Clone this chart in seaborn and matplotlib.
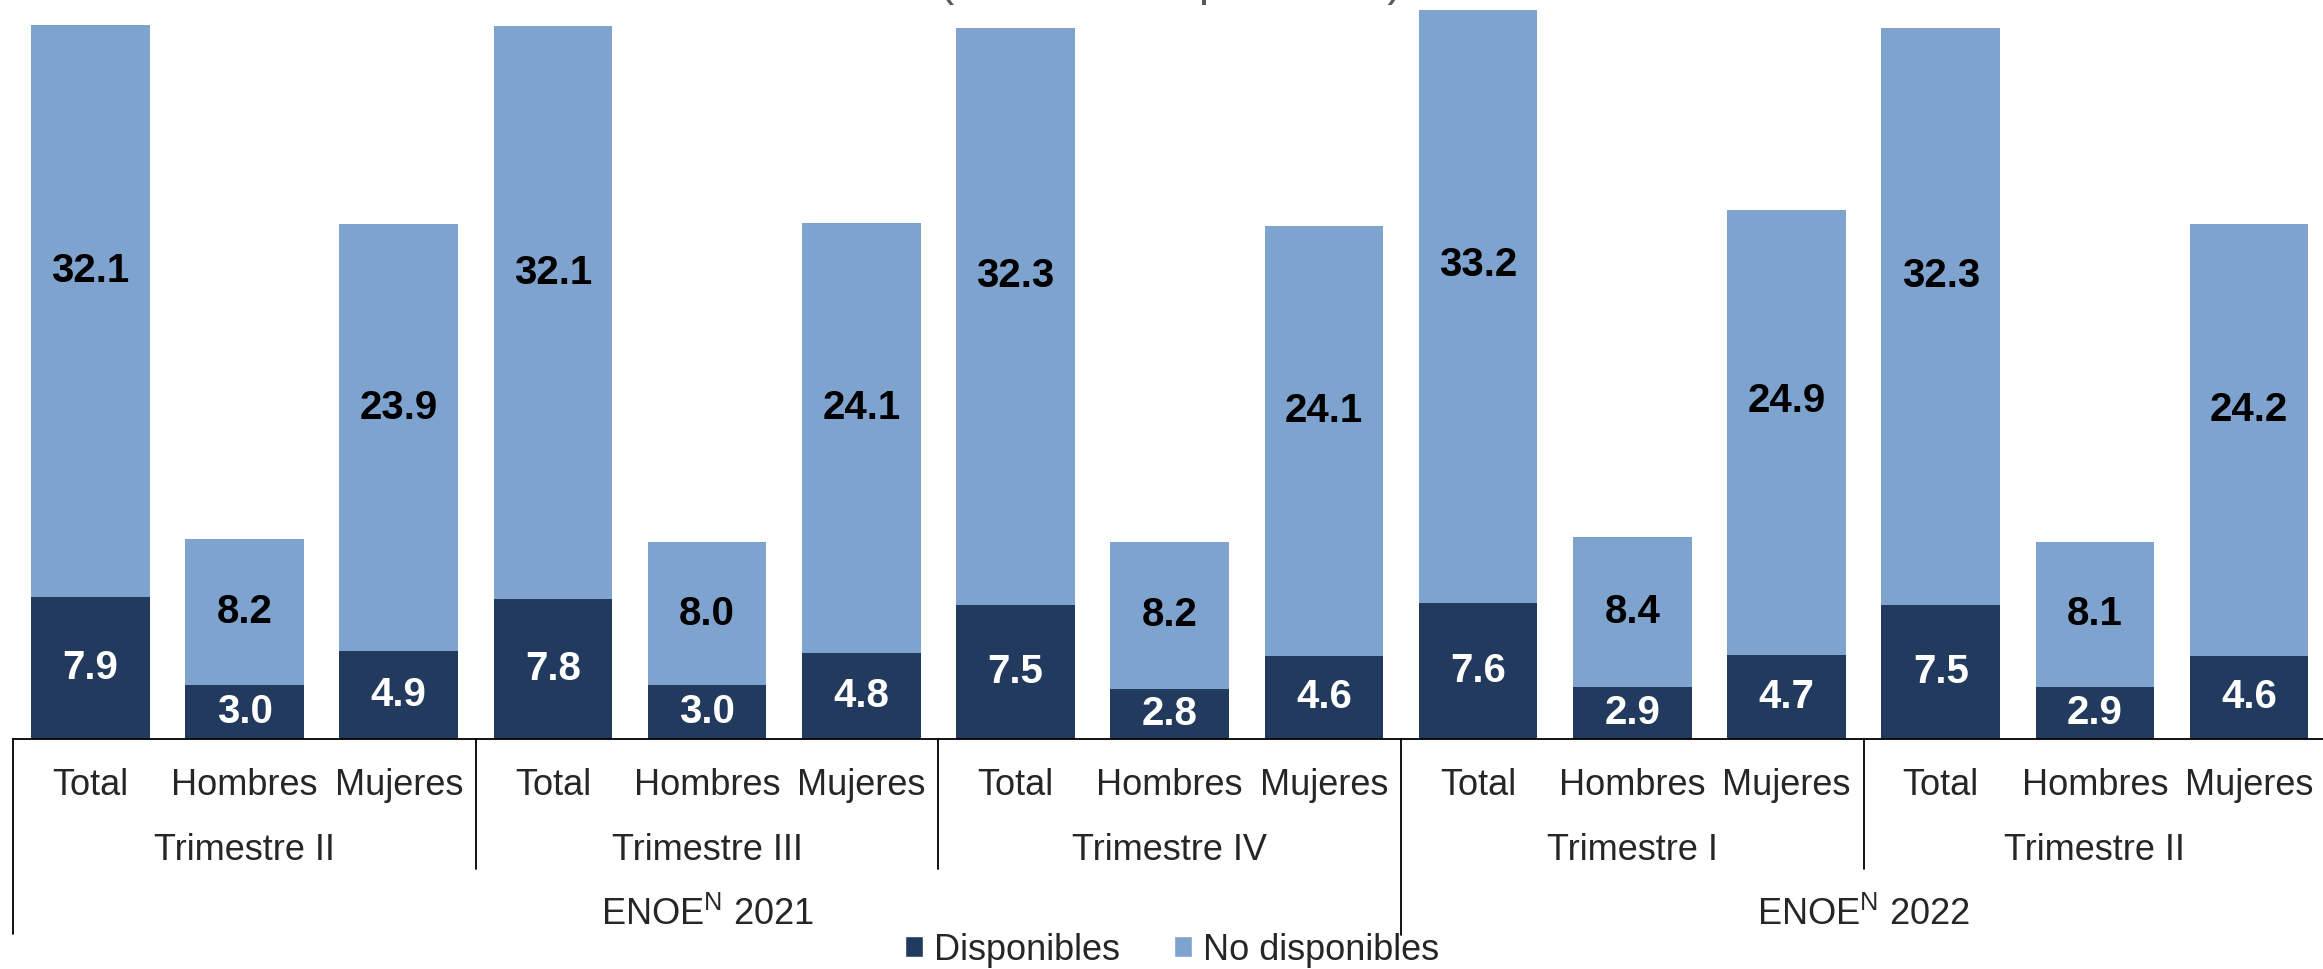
import pandas as pd
import seaborn as sns
import matplotlib.pyplot as plt
from matplotlib.patches import Patch
from matplotlib.transforms import blended_transform_factory

# datos (millones de personas)
anios = ["2021"] * 9 + ["2022"] * 6
trimestres = ["Trimestre II", "Trimestre III", "Trimestre IV", "Trimestre I", "Trimestre II"]
sexos = ["Total", "Hombres", "Mujeres"]
disponibles = [7.9, 3.0, 4.9, 7.8, 3.0, 4.8, 7.5, 2.8, 4.6, 7.6, 2.9, 4.7, 7.5, 2.9, 4.6]
no_disponibles = [32.1, 8.2, 23.9, 32.1, 8.0, 24.1, 32.3, 8.2, 24.1, 33.2, 8.4, 24.9, 32.3, 8.1, 24.2]

oscuro = "#223A5E"
claro = "#7FA3CF"

sns.set_style("white")
plt.rcParams['font.family'] = ['Liberation Sans', 'DejaVu Sans']
plt.rcParams['mathtext.fontset'] = 'custom'
plt.rcParams['mathtext.rm'] = 'Liberation Sans'

trim_rep = [t for t in trimestres for _ in sexos]
sexo_rep = sexos * len(trimestres)
df = pd.DataFrame({
    'clave': [f"{a}|{t}|{s}|{i}" for i, (a, t, s) in enumerate(zip(anios, trim_rep, sexo_rep))],
    'sexo': sexo_rep,
    'disp': disponibles,
    'nodisp': no_disponibles,
})
df['total'] = df['disp'] + df['nodisp']

W, H = 2323, 969
fig = plt.figure(figsize=(W / 100, H / 100), dpi=100)
ax = fig.add_axes([13.2 / W, (H - 738.5) / H, 15 * 154.2 / W, 738.5 / H])

sns.barplot(data=df, x='clave', y='total', color=claro, saturation=1, width=0.77,
            errorbar=None, ax=ax, linewidth=0)
sns.barplot(data=df, x='clave', y='disp', color=oscuro, saturation=1, width=0.77,
            errorbar=None, ax=ax, linewidth=0)

ax.set_xlim(-0.5, 14.5)
ax.set_ylim(0, 738.5 / 17.85)
ax.set_xlabel("")
ax.set_ylabel("")
ax.set_xticks([])
ax.set_yticks([])
for s in ['top', 'left', 'right']:
    ax.spines[s].set_visible(False)
ax.spines['bottom'].set_color('black')
ax.spines['bottom'].set_linewidth(1.3)

# etiquetas de datos
for i, row in df.iterrows():
    ax.text(i, row['disp'] / 2, f"{row['disp']:.1f}", ha='center', va='center',
            fontsize=29, fontweight='bold', color='white')
    frac = 0.57 if row['nodisp'] > 15 else 0.5
    ax.text(i, row['disp'] + row['nodisp'] * frac, f"{row['nodisp']:.1f}", ha='center',
            va='center', fontsize=29, fontweight='bold', color='black')

# eje categorico de varios niveles
tr = blended_transform_factory(ax.transData, fig.transFigure)


def fy(px):
    return 1 - px / H


for i, s in enumerate(df['sexo']):
    ax.text(i, fy(795), s, transform=tr, ha='center', va='baseline', fontsize=26)
for k, t in enumerate(trimestres):
    ax.text(3 * k + 1, fy(860), t, transform=tr, ha='center', va='baseline', fontsize=26)
ax.text(4, fy(925), r"ENOE$^{\mathrm{N}}$ 2021", transform=tr, ha='center', va='baseline', fontsize=26)
ax.text(11.5, fy(925), r"ENOE$^{\mathrm{N}}$ 2022", transform=tr, ha='center', va='baseline', fontsize=26)

for x, fondo in [(-0.5, 934), (2.5, 869), (5.5, 869), (8.5, 935), (11.5, 869)]:
    ax.plot([x, x], [fy(738.5), fy(fondo)], transform=tr, color='black', lw=1.3, clip_on=False)

# titulo recortado en el borde superior
fig.text(1171 / W, 1 + 4.6 / H, "(Millones de personas)", ha='center', va='baseline',
         fontsize=33, color='#595959')

handles = [Patch(facecolor=oscuro, label='Disponibles'), Patch(facecolor=claro, label='No disponibles')]
fig.legend(handles=handles, loc='center', bbox_to_anchor=(1172 / W, fy(950)), ncol=2,
           frameon=False, fontsize=26, handlelength=0.5, handleheight=0.5,
           handletextpad=0.3, columnspacing=1.5, borderpad=0)

fig.savefig("out.png", dpi=100)
